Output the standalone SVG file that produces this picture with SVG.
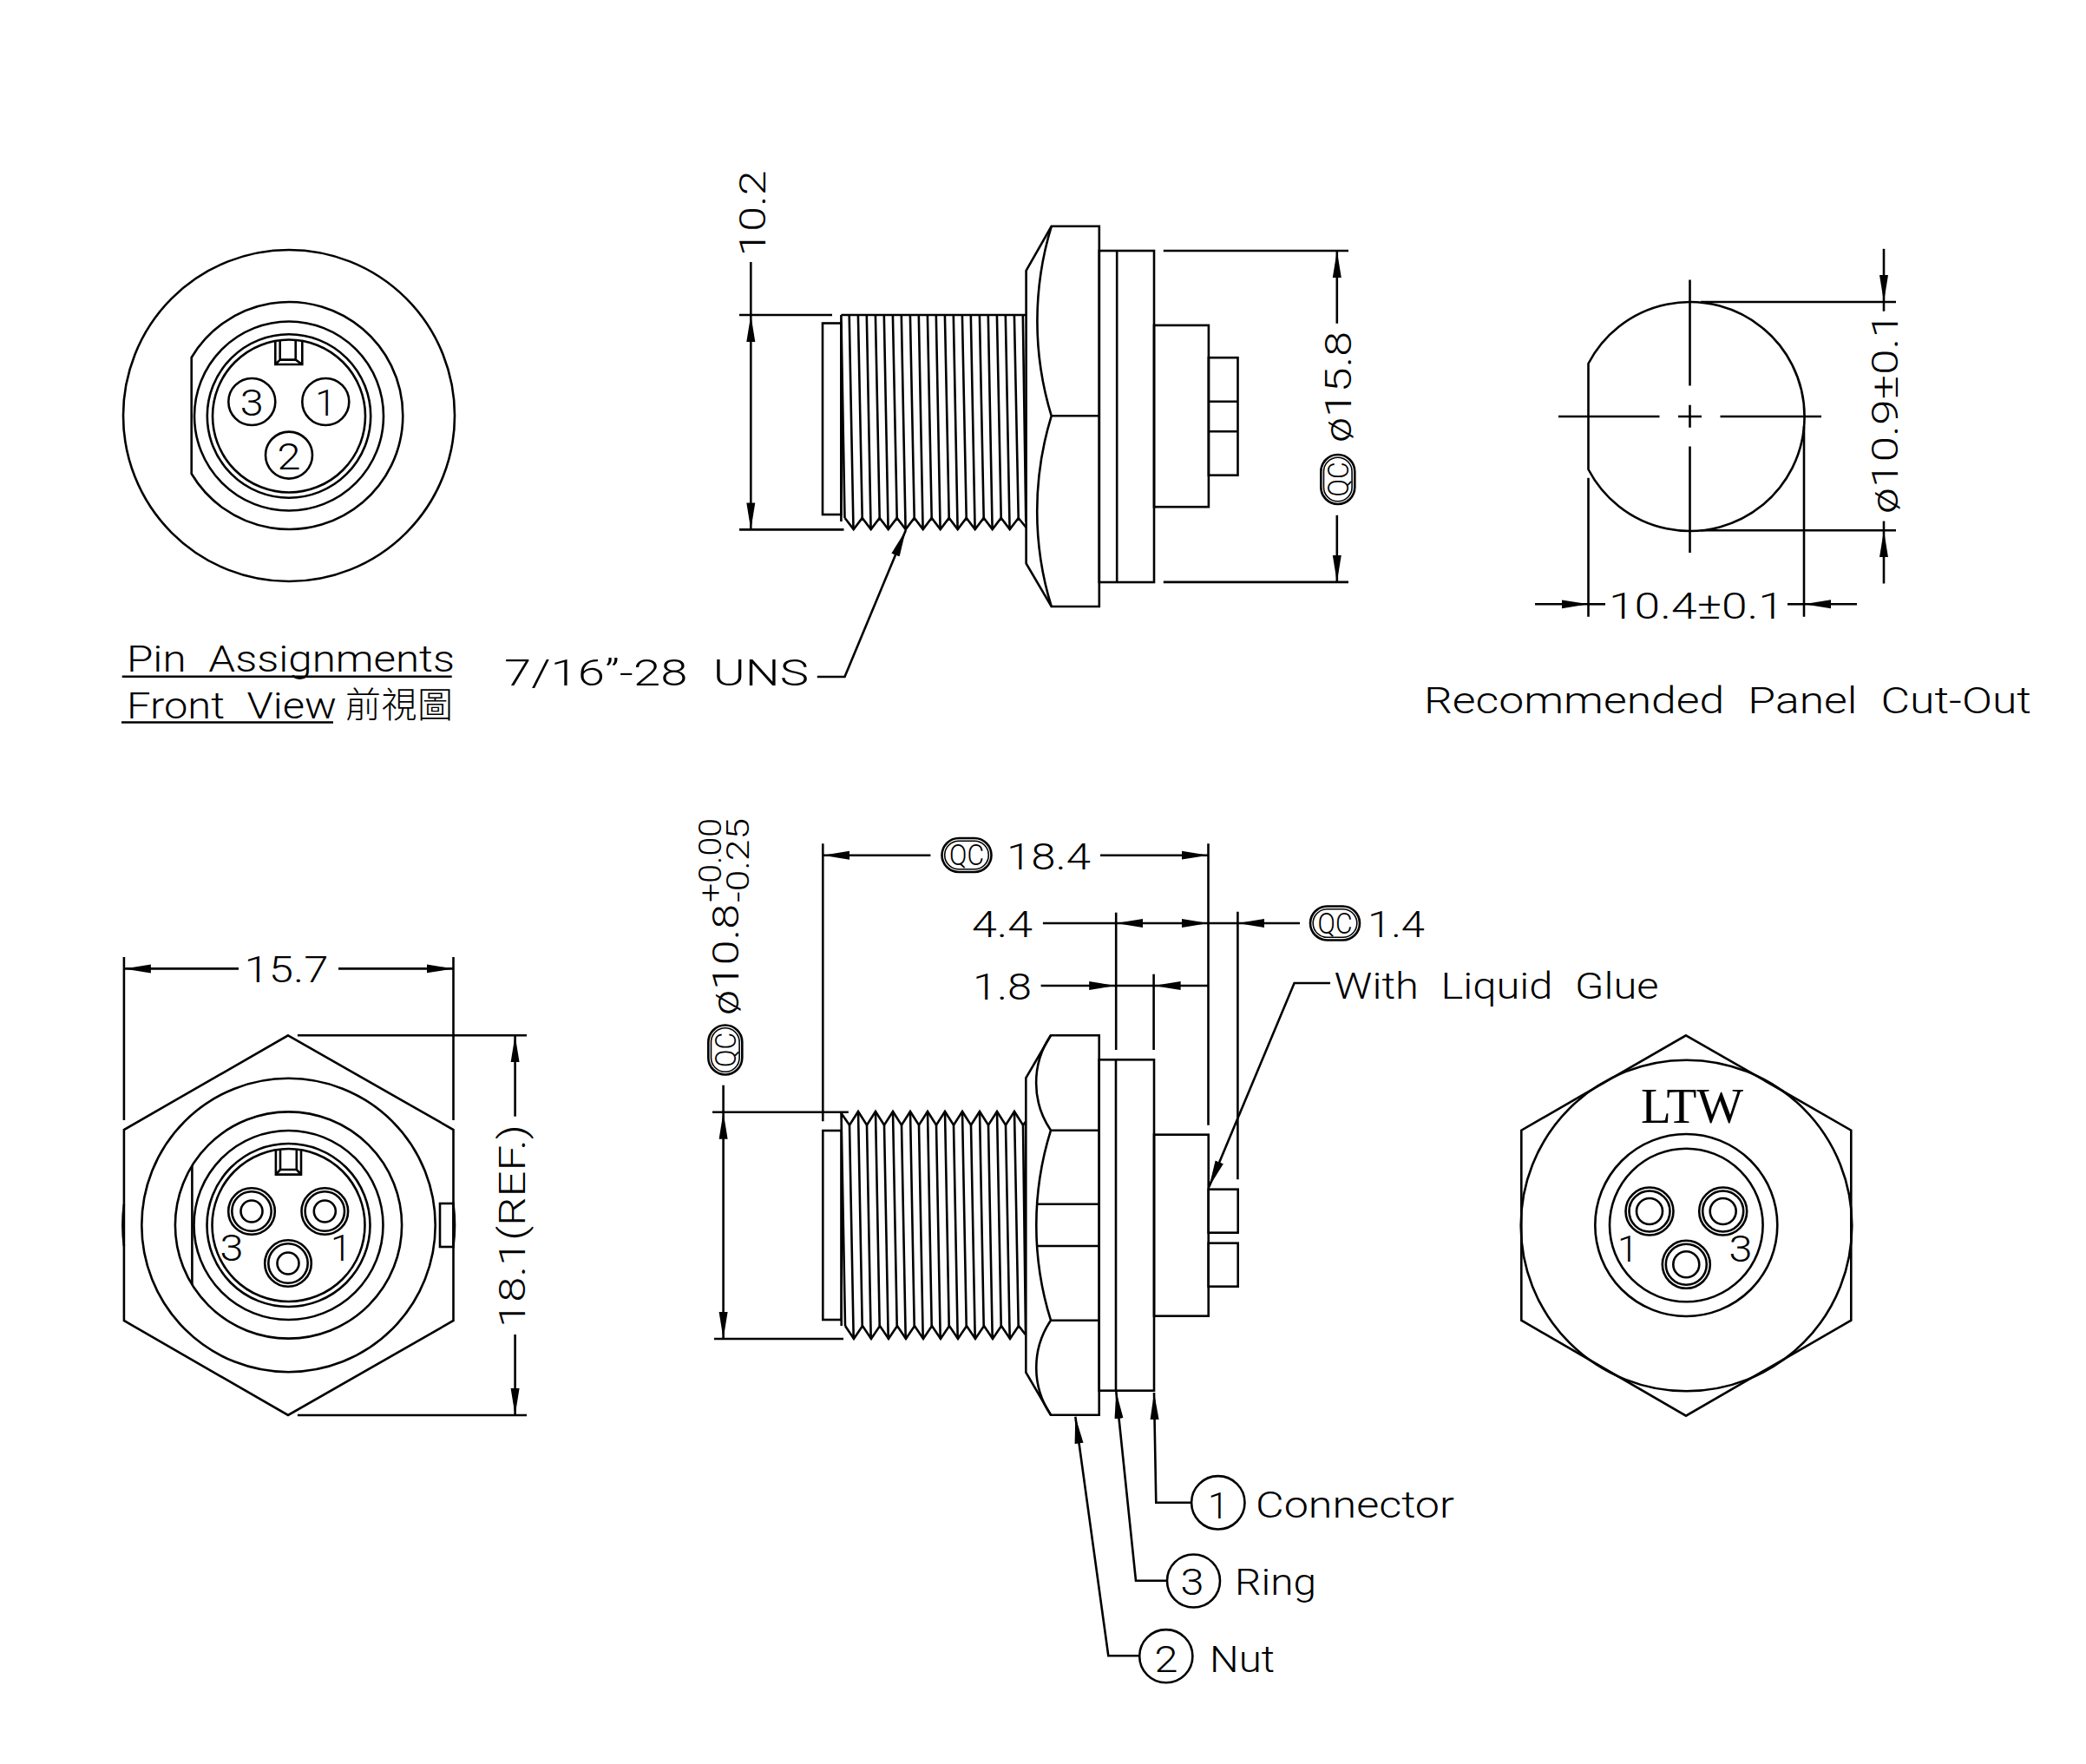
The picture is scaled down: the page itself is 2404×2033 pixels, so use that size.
<svg xmlns="http://www.w3.org/2000/svg" width="2404" height="2033" viewBox="0 0 2404 2033">
<style>
.s{fill:none;stroke:#000;stroke-width:2.6}
.w{fill:#fff;stroke:#000;stroke-width:2.6}
.d line,.d path{fill:none;stroke:#000;stroke-width:2.6}
.t{font-family:Roboto,"Liberation Sans",sans-serif;font-weight:300;font-size:43px;fill:#000;word-spacing:12px}
.m{text-anchor:middle}
.sm{font-size:37px}
.q{font-size:33px}
.cjk{font-family:"Noto Sans CJK TC",sans-serif;font-size:41px;font-weight:300;fill:#000}
.ltw{font-family:"Liberation Serif",serif;font-size:57px;fill:#000}
</style>
<defs>
<marker id="a" markerUnits="userSpaceOnUse" markerWidth="32" markerHeight="12" refX="31" refY="6" orient="auto-start-reverse"><path d="M0 1L31 6L0 11z" fill="#000"/></marker>
<g id="qc"><rect class="s" x="-28.5" y="-19.5" width="57" height="39" rx="19.5"/><rect class="s" x="-25.3" y="-16.3" width="50.6" height="32.6" rx="16.3" style="stroke-width:1.6"/></g>
</defs>
<rect width="2404" height="2033" fill="#fff"/>

<g id="front-view">
<circle class="s" cx="333" cy="479" r="191"/>
<path class="s" d="M220.7 412L220.7 546A131 131 0 1 0 220.7 412z"/>
<circle class="s" cx="333" cy="479.5" r="109"/>
<circle class="s" cx="333" cy="479.5" r="94.2"/>
<circle class="s" cx="333" cy="479.5" r="88"/>
<path class="s" d="M317.3 393V420H348.3V393M322.7 392V414.6H340.7V392M317.3 420L322.7 414.6M348.3 420L340.7 414.6"/>
<circle class="s" cx="290.3" cy="463" r="27"/>
<circle class="s" cx="375.3" cy="463" r="27"/>
<circle class="s" cx="333" cy="524.6" r="27"/>
<text class="t m" x="290.3" y="479" textLength="27" lengthAdjust="spacingAndGlyphs">3</text>
<text class="t m" x="375.3" y="479">1</text>
<text class="t m" x="333" y="541" textLength="27" lengthAdjust="spacingAndGlyphs">2</text>
</g>

<g id="pin-title">
<text class="t" x="146" y="774" textLength="378" lengthAdjust="spacingAndGlyphs">Pin Assignments</text>
<text class="t" x="146" y="828" textLength="242" lengthAdjust="spacingAndGlyphs">Front View</text>
<text class="cjk" x="398" y="827" textLength="124">前視圖</text>
<path class="s" d="M140.7 779.7H520.7M140 832.5H384"/>
</g>

<g id="side-view-top">
<rect class="s" x="948" y="372.5" width="21.4" height="220.5"/>
<path class="s" d="M969.4 363H1182.6M969.4 363V601M969.4 363L973.5 597"/>
<path class="s" d="M978.7 363l4.8 247M988.9 363l4.8 234M998.8 363l4.8 247M1008.9 363l4.8 234M1018.8 363l4.8 247M1028.9 363l4.8 234M1038.8 363l4.8 247M1048.9 363l4.8 234M1058.8 363l4.8 247M1068.9 363l4.8 234M1078.8 363l4.8 247M1088.9 363l4.8 234M1098.8 363l4.8 247M1108.9 363l4.8 234M1118.8 363l4.8 247M1128.9 363l4.8 234M1138.8 363l4.8 247M1148.9 363l4.8 234M1158.8 363l4.8 247M1168.9 363l4.8 234M1178.8 363l3.5 238"/>
<path class="s" d="M973.7 597l10 13l10-13l10 13l10-13l10 13l10-13l10 13l10-13l10 13l10-13l10 13l10-13l10 13l10-13l10 13l10-13l10 13l10-13l10 13l10-13l8.9 11"/>
<path class="w" d="M1182.6 311.8L1211.7 260.8H1266.8V699H1211.7L1182.6 649.3z"/>
<path class="s" d="M1211.7 260.8A374 374 0 0 0 1211.7 479.3A374 374 0 0 0 1211.7 699M1211.7 479.3H1266.8"/>
<rect class="s" x="1266.8" y="289" width="63.2" height="382"/>
<path class="s" d="M1287.2 289V671"/>
<rect class="s" x="1330" y="374.9" width="62.9" height="209.3"/>
<rect class="s" x="1392.9" y="412.2" width="33.6" height="135.5"/>
<path class="s" d="M1392.9 462.8H1426.5M1392.9 497.2H1426.5"/>
</g>

<g id="panel-cutout">
<path class="s" d="M1830.5 419V541A132 132 0 1 0 1830.5 419z"/>
<path class="s" d="M1947.5 322.4V444.5M1947.5 466.7V492.7M1947.5 514.5V637M1796 480H1912.5M1934 480H1961M1982.5 480H2099"/>
</g>

<g id="hex-front">
<path class="s" d="M332 1193.3L522.5 1302V1522L332 1631L142.9 1522V1302z"/>
<path class="s" d="M142.9 1388A191.5 191.5 0 0 0 142.9 1436M522.5 1388A191.5 191.5 0 0 1 522.5 1436"/>
<rect class="s" x="507" y="1387" width="15.5" height="50"/>
<circle class="s" cx="332.5" cy="1412" r="169.2"/>
<circle class="s" cx="332.5" cy="1412" r="130.6"/>
<path class="s" d="M221.4 1343V1481"/>
<circle class="s" cx="332.5" cy="1412" r="109"/>
<circle class="s" cx="332.5" cy="1412" r="94"/>
<circle class="s" cx="332.5" cy="1412" r="88"/>
<path class="s" d="M317.9 1326V1353.6H347V1326M323 1325V1348H341.8V1325M317.9 1353.6L323 1348M347 1353.6L341.8 1348"/>
<circle class="s" cx="290" cy="1396" r="26.8"/><circle class="s" cx="290" cy="1396" r="22.7"/><circle class="s" cx="290" cy="1396" r="12.5"/>
<circle class="s" cx="374.3" cy="1396" r="26.8"/><circle class="s" cx="374.3" cy="1396" r="22.7"/><circle class="s" cx="374.3" cy="1396" r="12.5"/>
<circle class="s" cx="332" cy="1456" r="26.8"/><circle class="s" cx="332" cy="1456" r="22.7"/><circle class="s" cx="332" cy="1456" r="12.5"/>
<text class="t m" x="267" y="1453" textLength="27" lengthAdjust="spacingAndGlyphs">3</text>
<text class="t m" x="393" y="1453">1</text>
</g>

<g id="side-view-bottom">
<rect class="s" x="948.3" y="1303" width="21.4" height="218"/>
<path class="s" d="M969.5 1283L974 1528M969.7 1283V1528"/>
<path class="s" d="M969.5 1283L979 1296.7l10-15.7l10 15.7l10-15.7l10 15.7l10-15.7l10 15.7l10-15.7l10 15.7l10-15.7l10 15.7l10-15.7l10 15.7l10-15.7l10 15.7l10-15.7l10 15.7l10-15.7l10 15.7l10-15.7l10 15.7l3 -4"/>
<path class="s" d="M979 1296.7l4.7 246.3M989 1281l4.7 247M999 1296.7l4.7 246.3M1009 1281l4.7 247M1019 1296.7l4.7 246.3M1029 1281l4.7 247M1039 1296.7l4.7 246.3M1049 1281l4.7 247M1059 1296.7l4.7 246.3M1069 1281l4.7 247M1079 1296.7l4.7 246.3M1089 1281l4.7 247M1099 1296.7l4.7 246.3M1109 1281l4.7 247M1119 1296.7l4.7 246.3M1129 1281l4.7 247M1139 1296.7l4.7 246.3M1149 1281l4.7 247M1159 1296.7l4.7 246.3M1169 1281l4.7 247M1179 1296.7l3 240"/>
<path class="s" d="M974 1528l10 15l10-15l10 15l10-15l10 15l10-15l10 15l10-15l10 15l10-15l10 15l10-15l10 15l10-15l10 15l10-15l10 15l10-15l10 15l10-15l7.7 10"/>
<path class="w" d="M1182.3 1242.3L1211 1193.3H1266.7V1630.7H1211L1182.3 1581.7z"/>
<path class="s" d="M1211 1193.3A97 97 0 0 0 1211 1302.7A367 367 0 0 0 1211 1521.7A97 97 0 0 0 1211 1630.7M1211 1302.7H1266.7M1211 1521.7H1266.7M1195.7 1387.7H1266.7M1195.7 1436H1266.7"/>
<rect class="s" x="1266.7" y="1221.3" width="63.3" height="381.4"/>
<path class="s" d="M1286 1221.3V1602.7"/>
<rect class="s" x="1330" y="1307.7" width="62.7" height="209"/>
<rect class="s" x="1392.7" y="1370.7" width="34" height="50"/>
<rect class="s" x="1392.7" y="1432.7" width="34" height="50"/>
</g>

<g id="hex-rear">
<path class="s" d="M1943 1193.3L2133.3 1302.7V1521.7L1943 1631.7L1753.3 1521.7V1302.7z"/>
<circle class="s" cx="1943.5" cy="1412.5" r="190.8"/>
<circle class="s" cx="1943.3" cy="1412" r="105"/>
<circle class="s" cx="1943.3" cy="1412" r="88.3"/>
<circle class="s" cx="1901" cy="1396" r="27.5"/><circle class="s" cx="1901" cy="1396" r="23.5"/><circle class="s" cx="1901" cy="1396" r="15"/>
<circle class="s" cx="1985.7" cy="1396" r="27.5"/><circle class="s" cx="1985.7" cy="1396" r="23.5"/><circle class="s" cx="1985.7" cy="1396" r="15"/>
<circle class="s" cx="1943.3" cy="1457.3" r="27.5"/><circle class="s" cx="1943.3" cy="1457.3" r="23.5"/><circle class="s" cx="1943.3" cy="1457.3" r="15"/>
<text class="ltw m" x="1950" y="1294">LTW</text>
<text class="t m" x="1876" y="1454">1</text>
<text class="t m" x="2006" y="1454" textLength="27" lengthAdjust="spacingAndGlyphs">3</text>
</g>

<g id="callout-1"><circle class="s" cx="1403.8" cy="1731.8" r="30.7"/><text class="t m" x="1404" y="1750">1</text><text class="t" x="1447" y="1749" textLength="229" lengthAdjust="spacingAndGlyphs">Connector</text></g>
<g id="callout-3"><circle class="s" cx="1375.5" cy="1822" r="30.5"/><text class="t m" x="1374" y="1838" textLength="27" lengthAdjust="spacingAndGlyphs">3</text><text class="t" x="1423" y="1838" textLength="94" lengthAdjust="spacingAndGlyphs">Ring</text></g>
<g id="callout-2"><circle class="s" cx="1343.8" cy="1908.7" r="30.6"/><text class="t m" x="1344" y="1927" textLength="27" lengthAdjust="spacingAndGlyphs">2</text><text class="t" x="1394" y="1927" textLength="75" lengthAdjust="spacingAndGlyphs">Nut</text></g>

<g id="connectors" class="d">
<line x1="865.3" y1="302" x2="865.3" y2="363"/>
<line x1="865.3" y1="363" x2="865.3" y2="610.4" marker-start="url(#a)" marker-end="url(#a)"/>
<line x1="852" y1="363" x2="959" y2="363"/><line x1="852" y1="610.4" x2="972.5" y2="610.4"/>
<line x1="1340.8" y1="289" x2="1554" y2="289"/><line x1="1340.8" y1="670.9" x2="1554" y2="670.9"/>
<line x1="1540.8" y1="372.8" x2="1540.8" y2="289" marker-end="url(#a)"/>
<line x1="1540.8" y1="593.8" x2="1540.8" y2="670.9" marker-end="url(#a)"/>
<path d="M941.8 780H973.5L1043.9 611" marker-end="url(#a)"/>

<line x1="1960" y1="348" x2="2185" y2="348"/><line x1="1960" y1="611.3" x2="2185" y2="611.3"/>
<line x1="2171" y1="286.8" x2="2171" y2="348" marker-end="url(#a)"/><line x1="2171" y1="348" x2="2171" y2="358.7"/>
<line x1="2171" y1="672.5" x2="2171" y2="611.3" marker-end="url(#a)"/><line x1="2171" y1="611.3" x2="2171" y2="600.6"/>
<line x1="1830.5" y1="550.8" x2="1830.5" y2="710.8"/><line x1="2079" y1="491.5" x2="2079" y2="710.8"/>
<line x1="1769" y1="696.3" x2="1830.5" y2="696.3" marker-end="url(#a)"/><line x1="1830.5" y1="696.3" x2="1850" y2="696.3"/>
<line x1="2140" y1="696.3" x2="2079" y2="696.3" marker-end="url(#a)"/><line x1="2079" y1="696.3" x2="2060" y2="696.3"/>

<line x1="142.9" y1="1103" x2="142.9" y2="1291"/><line x1="522.5" y1="1103" x2="522.5" y2="1291"/>
<line x1="275" y1="1116.4" x2="142.9" y2="1116.4" marker-end="url(#a)"/><line x1="390" y1="1116.4" x2="522.5" y2="1116.4" marker-end="url(#a)"/>
<line x1="342.9" y1="1193.3" x2="607" y2="1193.3"/><line x1="342.9" y1="1631" x2="607" y2="1631"/>
<line x1="593.6" y1="1286.7" x2="593.6" y2="1193.3" marker-end="url(#a)"/><line x1="593.6" y1="1538" x2="593.6" y2="1631" marker-end="url(#a)"/>

<line x1="833.6" y1="1250.7" x2="833.6" y2="1281.7"/>
<line x1="833.6" y1="1281.7" x2="833.6" y2="1543" marker-start="url(#a)" marker-end="url(#a)"/>
<line x1="821" y1="1281.7" x2="977.8" y2="1281.7"/><line x1="823" y1="1543" x2="972" y2="1543"/>
<line x1="948.3" y1="972.3" x2="948.3" y2="1292.3"/><line x1="1392.5" y1="972.3" x2="1392.5" y2="1296.7"/>
<line x1="1072.4" y1="985.7" x2="948.3" y2="985.7" marker-end="url(#a)"/><line x1="1268" y1="985.7" x2="1392.5" y2="985.7" marker-end="url(#a)"/>
<line x1="1286.2" y1="1051.7" x2="1286.2" y2="1210"/><line x1="1329.6" y1="1122.7" x2="1329.6" y2="1210"/><line x1="1426.4" y1="1050.7" x2="1426.4" y2="1359.3"/>
<line x1="1201.9" y1="1064" x2="1286.2" y2="1064"/>
<line x1="1286.2" y1="1064" x2="1392.5" y2="1064" marker-start="url(#a)" marker-end="url(#a)"/>
<line x1="1392.5" y1="1064" x2="1426.4" y2="1064"/>
<line x1="1498" y1="1064" x2="1426.4" y2="1064" marker-end="url(#a)"/>
<line x1="1199.6" y1="1136" x2="1286.2" y2="1136" marker-end="url(#a)"/><line x1="1286.2" y1="1136" x2="1329.6" y2="1136"/>
<line x1="1392.5" y1="1136" x2="1329.6" y2="1136" marker-end="url(#a)"/>
<path d="M1533 1133H1491.6L1393.3 1368" marker-end="url(#a)"/>
<path d="M1373.3 1731.7H1332.3L1330 1605" marker-end="url(#a)"/>
<path d="M1345 1821.7H1309L1286.3 1604" marker-end="url(#a)"/>
<path d="M1313.3 1908.3H1277.3L1239.3 1632.7" marker-end="url(#a)"/>
</g>

<g id="dimension-labels">
<text class="t" transform="translate(881.5 295.5) rotate(-90)" textLength="99" lengthAdjust="spacingAndGlyphs">10.2</text>
<text class="t" transform="translate(1557 510) rotate(-90)" textLength="128" lengthAdjust="spacingAndGlyphs">ø15.8</text>
<use href="#qc" transform="translate(1541.8 552.5) rotate(-90)"/>
<text class="t q m" transform="translate(1553.5 552.5) rotate(-90)" textLength="40" lengthAdjust="spacingAndGlyphs">QC</text>
<text class="t" x="581" y="790" textLength="351" lengthAdjust="spacingAndGlyphs">7/16”-28 UNS</text>
<text class="t" transform="translate(2187 592) rotate(-90)" textLength="232" lengthAdjust="spacingAndGlyphs">ø10.9±0.1</text>
<text class="t" x="1854" y="712.5" textLength="202" lengthAdjust="spacingAndGlyphs">10.4±0.1</text>
<text class="t" x="1641" y="822" textLength="700" lengthAdjust="spacingAndGlyphs">Recommended Panel Cut-Out</text>
<text class="t" x="281.5" y="1131.7" textLength="97" lengthAdjust="spacingAndGlyphs">15.7</text>
<text class="t" transform="translate(605 1530) rotate(-90)" textLength="234" lengthAdjust="spacingAndGlyphs">18.1(REF.)</text>
<text class="t" transform="translate(850.5 1170) rotate(-90)" textLength="128" lengthAdjust="spacingAndGlyphs">ø10.8</text>
<text class="t sm" transform="translate(831 1040) rotate(-90)" textLength="97" lengthAdjust="spacingAndGlyphs">+0.00</text>
<text class="t sm" transform="translate(862.6 1040) rotate(-90)" textLength="97" lengthAdjust="spacingAndGlyphs">-0.25</text>
<use href="#qc" transform="translate(835.8 1210) rotate(-90)"/>
<text class="t q m" transform="translate(847.5 1210) rotate(-90)" textLength="40" lengthAdjust="spacingAndGlyphs">QC</text>
<use href="#qc" x="1114" y="985.5"/>
<text class="t q m" x="1114" y="997.2" textLength="40" lengthAdjust="spacingAndGlyphs">QC</text>
<text class="t" x="1160" y="1001.7" textLength="97" lengthAdjust="spacingAndGlyphs">18.4</text>
<text class="t" x="1120" y="1080" textLength="70" lengthAdjust="spacingAndGlyphs">4.4</text>
<text class="t" x="1121" y="1151.7" textLength="68" lengthAdjust="spacingAndGlyphs">1.8</text>
<use href="#qc" x="1538.5" y="1064"/>
<text class="t q m" x="1538.5" y="1075.7" textLength="40" lengthAdjust="spacingAndGlyphs">QC</text>
<text class="t" x="1576" y="1080" textLength="66" lengthAdjust="spacingAndGlyphs">1.4</text>
<text class="t" x="1537.6" y="1151" textLength="374" lengthAdjust="spacingAndGlyphs">With Liquid Glue</text>
</g>
</svg>
